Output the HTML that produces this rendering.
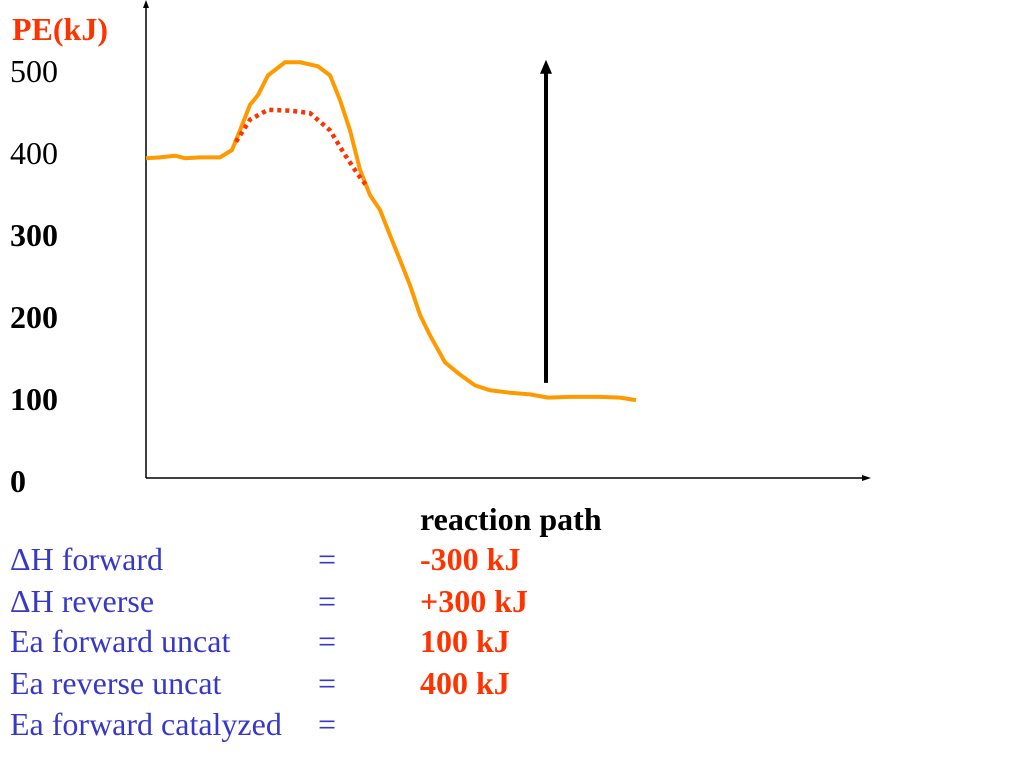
<!DOCTYPE html>
<html><head><meta charset="utf-8"><style>
body{margin:0;background:#fff;width:1024px;height:768px;overflow:hidden;font-family:"Liberation Serif",serif}
svg{position:absolute;left:0;top:0}
.t{position:absolute;font-size:32px;white-space:nowrap;line-height:1}
.b{color:#3838c8}.r{color:#ff3300;font-weight:bold}
</style></head><body>
<svg width="1024" height="768">
<line x1="146" y1="478" x2="146" y2="6" stroke="#000" stroke-width="1.5"/>
<path d="M143,8 L146,0 L149,8 z" fill="#000"/>
<line x1="146" y1="478" x2="864" y2="478" stroke="#000" stroke-width="1.5"/>
<path d="M862,475 L871,478 L862,481 z" fill="#000"/>
<g id="plot"></g>
</svg>
<div class="t r" style="left:12px;top:13px">PE(kJ)</div>
<div id="ticks"></div>
<div class="t" style="left:420px;top:503px;font-weight:bold">reaction path</div>
<div class="t b" style="left:10px;top:543px">ΔH forward</div>
<div class="t b" style="left:318px;top:543px">=</div>
<div class="t r" style="left:420px;top:543px">-300 kJ</div>
<div class="t b" style="left:10px;top:585px">ΔH reverse</div>
<div class="t b" style="left:318px;top:585px">=</div>
<div class="t r" style="left:420px;top:585px">+300 kJ</div>
<div class="t b" style="left:10px;top:625px">Ea forward uncat</div>
<div class="t b" style="left:318px;top:625px">=</div>
<div class="t r" style="left:420px;top:625px">100 kJ</div>
<div class="t b" style="left:10px;top:667px">Ea reverse uncat</div>
<div class="t b" style="left:318px;top:667px">=</div>
<div class="t r" style="left:420px;top:667px">400 kJ</div>
<div class="t b" style="left:10px;top:708px">Ea forward catalyzed</div>
<div class="t b" style="left:318px;top:708px">=</div>
<script>
const tickValues=[500,400,300,200,100,0];
const tickBold=[false,false,true,true,true,true];
const uncatX=[0,14,29,39,54,74,86,94,104,112,122,139,154,172,184,194,204,214,224,234,244,254,264,274,284,299,314,329,344,364,384,402,424,454,474,490];
const uncatY=[390,391,393,390,391,391,400,424,455,467,491,507,507,502,491,461,424,376,345,327,296,266,235,199,174,141,126,113,107,104,102,98,99,99,98,95];
const catX=[90,104,122,144,164,184,199,212,222];
const catY=[410,437,449,448,445,424,394,370,354];
const arrowX=[400];
const arrowY=[[116,510]];
const sx=v=>146+v, sy=v=>478-v*0.82;
const NS="http://www.w3.org/2000/svg";
const g=document.getElementById('plot');
function line(xs,ys,attrs,name){const p=document.createElementNS(NS,'path');
p.setAttribute('d',xs.map((x,i)=>(i?'L':'M')+sx(x)+','+sy(ys[i])).join(' '));
for(const k in attrs)p.setAttribute(k,attrs[k]);


g.appendChild(p);}
line(uncatX,uncatY,{fill:'none',stroke:'#ff9900','stroke-width':4,'stroke-linejoin':'round'},'uncatalyzed-curve');
line(catX,catY,{fill:'none',stroke:'#ff3300','stroke-width':4.5,'stroke-dasharray':'4 4'},'catalyzed-curve');
const ax=sx(arrowX[0]), ay0=sy(arrowY[0][0]), ay1=sy(arrowY[0][1]);
const a=document.createElementNS(NS,'line');
a.setAttribute('x1',ax);a.setAttribute('x2',ax);
a.setAttribute('y1',ay0);a.setAttribute('y2',ay1+10);
a.setAttribute('stroke','#000');a.setAttribute('stroke-width',4);


g.appendChild(a);
const h=document.createElementNS(NS,'path');
h.setAttribute('d','M'+(ax-6)+','+(ay1+14)+' L'+ax+','+ay1+' L'+(ax+6)+','+(ay1+14)+' z');
h.setAttribute('fill','#000');


g.appendChild(h);
const tk=document.getElementById('ticks');
tickValues.forEach((v,i)=>{const d=document.createElement('div');d.className='t';
d.style.left='10px';d.style.top=(sy(v)-13)+'px';if(tickBold[i])d.style.fontWeight='bold';
d.textContent=v;


tk.appendChild(d);});
</script>
</body></html>
